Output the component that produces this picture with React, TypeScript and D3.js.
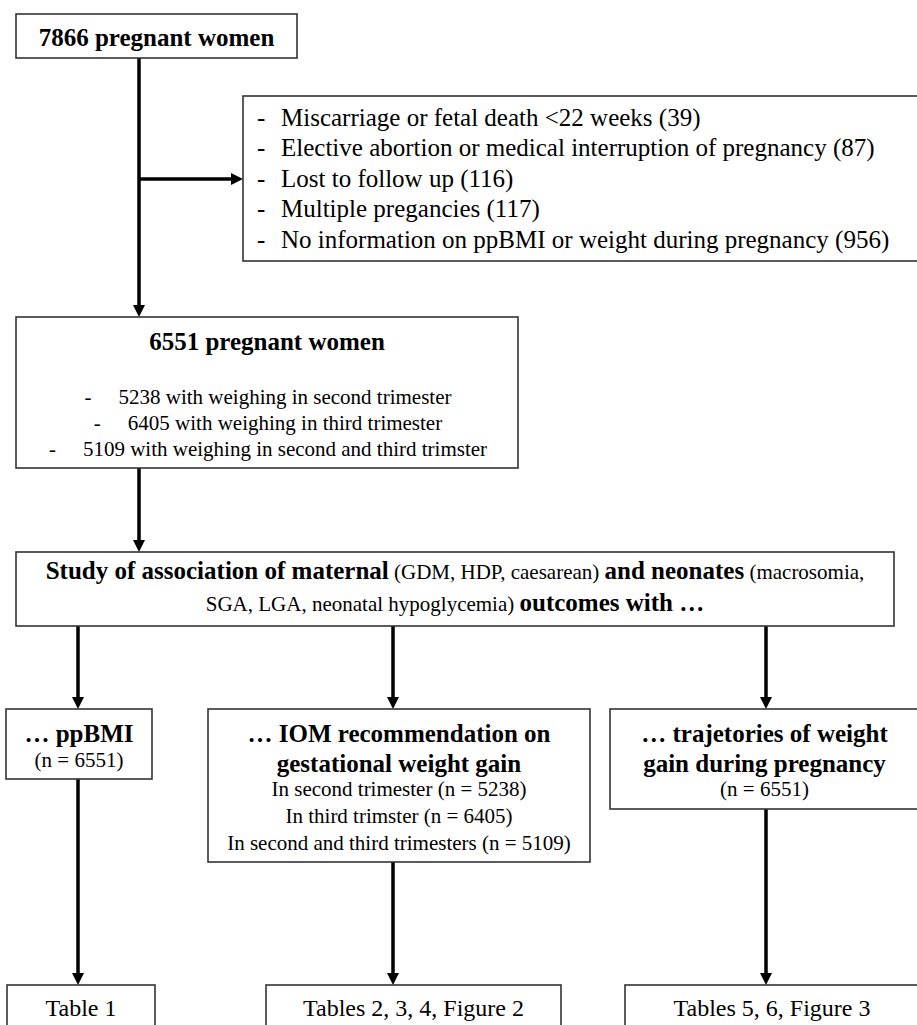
import * as React from 'react';
import * as d3 from 'd3';

// ---- text content of the flow chart ----
const COHORT_TOTAL = '7866 pregnant women';

const EXCLUSIONS = [
  'Miscarriage or fetal death <22 weeks (39)',
  'Elective abortion or medical interruption of pregnancy (87)',
  'Lost to follow up (116)',
  'Multiple pregancies (117)',
  'No information on ppBMI or weight during pregnancy (956)',
];

const INCLUDED_TITLE = '6551 pregnant women';
const INCLUDED_SUB = [
  '5238 with weighing in second trimester',
  '6405 with weighing in third trimester',
  '5109 with weighing in second and third trimster',
];

// each line is a list of [text, bold]
const STUDY_LINES: [string, boolean][][] = [
  [
    ['Study of association of maternal', true],
    [' (GDM, HDP, caesarean) ', false],
    ['and neonates', true],
    [' (macrosomia,', false],
  ],
  [
    ['SGA, LGA, neonatal hypoglycemia) ', false],
    ['outcomes with …', true],
  ],
];

const ANALYSIS_TITLES = [
  ['… ppBMI'],
  ['… IOM recommendation on', 'gestational weight gain'],
  ['… trajetories of weight', 'gain during pregnancy'],
];
const ANALYSIS_SUBS = [
  ['(n = 6551)'],
  ['In second trimester (n = 5238)', 'In third trimster (n = 6405)', 'In second and third trimesters (n = 5109)'],
  ['(n = 6551)'],
];

const OUTPUTS = ['Table 1', 'Tables 2, 3, 4, Figure 2', 'Tables 5, 6, Figure 3'];

// ---- layout ----
const W = 917;
const H = 1025;
const FONT = '"Liberation Serif", "Times New Roman", serif';
const STROKE = '#333';

const BOX_TOTAL = { x0: 16, x1: 297, y0: 14, y1: 58 };
const BOX_EXCL = { x0: 243, x1: 919, y0: 96, y1: 261 };
const BOX_INCL = { x0: 16, x1: 518, y0: 317, y1: 468 };
const BOX_STUDY = { x0: 16, x1: 894, y0: 552, y1: 626 };
const BOX_ANALYSIS = [
  { x0: 6, x1: 152, y0: 709, y1: 779 },
  { x0: 208, x1: 590, y0: 709, y1: 862 },
  { x0: 610, x1: 919, y0: 709, y1: 809 },
];
const BOX_OUTPUT = [
  { x0: 7, x1: 155, y0: 985, y1: 1035 },
  { x0: 266, x1: 561, y0: 985, y1: 1035 },
  { x0: 625, x1: 919, y0: 985, y1: 1035 },
];
const BRANCH_X = [78, 393, 766];

type Box = { x0: number; x1: number; y0: number; y1: number };

function Rect({ b }: { b: Box }) {
  return (
    <rect x={b.x0} y={b.y0} width={b.x1 - b.x0} height={b.y1 - b.y0}
      fill="#fff" stroke={STROKE} strokeWidth={1.6} />
  );
}

function Arrow({ x1, y1, x2, y2 }: { x1: number; y1: number; x2: number; y2: number }) {
  const len = Math.hypot(x2 - x1, y2 - y1);
  const ux = (x2 - x1) / len;
  const uy = (y2 - y1) / len;
  const head = 12;
  const half = 6;
  const bx = x2 - ux * head;
  const by = y2 - uy * head;
  const p = d3.path();
  p.moveTo(x2, y2);
  p.lineTo(bx - uy * half, by + ux * half);
  p.lineTo(bx + uy * half, by - ux * half);
  p.closePath();
  return (
    <g>
      <line x1={x1} y1={y1} x2={bx + ux * 1} y2={by + uy * 1} stroke="#000" strokeWidth={3.5} />
      <path d={p.toString()} fill="#000" />
    </g>
  );
}

export default function App() {
  React.useEffect(() => {
    document.body.style.margin = '0';
  }, []);

  const exclY = d3.scalePoint<number>().domain(d3.range(EXCLUSIONS.length)).range([117, 239]);
  const inclY = d3.scalePoint<number>().domain(d3.range(INCLUDED_SUB.length)).range([397, 449]);
  const studyY = d3.scalePoint<number>().domain(d3.range(STUDY_LINES.length)).range([573, 605]);
  const spineX = 139;
  const branchY = 179;

  const analysisLineYs = ANALYSIS_TITLES.map((titles, i) => {
    const ys: { text: string; bold: boolean; y: number }[] = [];
    let y = 733;
    titles.forEach((t) => {
      ys.push({ text: t, bold: true, y });
      y += 30;
    });
    ANALYSIS_SUBS[i].forEach((t, j) => {
      if (j === 0 && titles.length === 1) y -= 3;
      else if (j === 0) y -= 4;
      ys.push({ text: t, bold: false, y });
      y += 27;
    });
    return ys;
  });

  return (
    <svg width={W} height={H} viewBox={`0 0 ${W} ${H}`} style={{ display: 'block', background: '#fff' }}
      fontFamily={FONT}>
      {/* arrows first so boxes sit on top */}
      <Arrow x1={spineX} y1={BOX_TOTAL.y1} x2={spineX} y2={BOX_INCL.y0} />
      <Arrow x1={spineX} y1={branchY} x2={BOX_EXCL.x0} y2={branchY} />
      <Arrow x1={spineX} y1={BOX_INCL.y1} x2={spineX} y2={BOX_STUDY.y0} />
      {BRANCH_X.map((x, i) => (
        <g key={i}>
          <Arrow x1={x} y1={BOX_STUDY.y1} x2={x} y2={BOX_ANALYSIS[i].y0} />
          <Arrow x1={x} y1={BOX_ANALYSIS[i].y1} x2={x} y2={BOX_OUTPUT[i].y0} />
        </g>
      ))}

      {/* top box */}
      <Rect b={BOX_TOTAL} />
      <text x={(BOX_TOTAL.x0 + BOX_TOTAL.x1) / 2} y={37} dy="0.35em" textAnchor="middle"
        fontSize={25} fontWeight="bold">{COHORT_TOTAL}</text>

      {/* exclusions */}
      <Rect b={BOX_EXCL} />
      {EXCLUSIONS.map((t, i) => (
        <g key={i}>
          <text x={257} y={exclY(i)} dy="0.35em" fontSize={25}>-</text>
          <text x={281} y={exclY(i)} dy="0.35em" fontSize={25}>{t}</text>
        </g>
      ))}

      {/* included */}
      <Rect b={BOX_INCL} />
      <text x={(BOX_INCL.x0 + BOX_INCL.x1) / 2} y={341} dy="0.35em" textAnchor="middle"
        fontSize={25} fontWeight="bold">{INCLUDED_TITLE}</text>
      {INCLUDED_SUB.map((t, i) => (
        <text key={i} x={268} y={inclY(i)} dy="0.35em" textAnchor="middle" fontSize={21}>
          <tspan>-</tspan>
          <tspan dx={27}>{t}</tspan>
        </text>
      ))}

      {/* study box */}
      <Rect b={BOX_STUDY} />
      {STUDY_LINES.map((parts, i) => (
        <text key={i} x={455} y={studyY(i)} dy="0.35em" textAnchor="middle" xmlSpace="preserve">
          {parts.map(([t, bold], j) => (
            <tspan key={j} fontWeight={bold ? 'bold' : 'normal'} fontSize={bold ? 25 : 21}>{t}</tspan>
          ))}
        </text>
      ))}

      {/* analyses */}
      {BOX_ANALYSIS.map((b, i) => (
        <g key={i}>
          <Rect b={b} />
          {analysisLineYs[i].map((l, j) => (
            <text key={j} x={(b.x0 + b.x1) / 2} y={l.y} dy="0.35em" textAnchor="middle"
              fontSize={l.bold ? 25 : 21} fontWeight={l.bold ? 'bold' : 'normal'}>{l.text}</text>
          ))}
        </g>
      ))}

      {/* outputs */}
      {BOX_OUTPUT.map((b, i) => (
        <g key={i}>
          <Rect b={b} />
          <text x={(b.x0 + b.x1) / 2} y={1008} dy="0.35em" textAnchor="middle" fontSize={24}>{OUTPUTS[i]}</text>
        </g>
      ))}
    </svg>
  );
}
